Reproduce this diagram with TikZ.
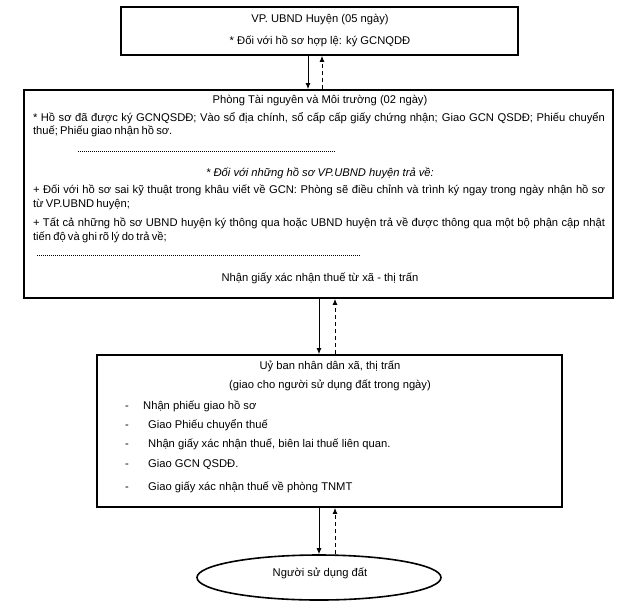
\documentclass[tikz,border=0pt]{standalone}
\usepackage{fontspec}
\setmainfont{Liberation Sans}
\usetikzlibrary{shapes.geometric,arrows.meta}
\begin{document}
\begin{tikzpicture}[x=1pt,y=-1pt,font=\fontsize{11.2}{13.5}\selectfont,
  frame/.style={draw,line width=1.8pt,inner sep=0pt},
  txt/.style={inner sep=0pt},
  para/.style={inner sep=0pt,text width=572pt,align=justify},
  dotline/.style={line width=0.5pt,dash pattern=on 1pt off 1pt},
  fwd/.style={line width=0.9pt,-{Latex[length=6pt,width=5pt]}},
  back/.style={line width=0.9pt,dash pattern=on 4pt off 3pt,-{Latex[length=6pt,width=5pt]}}]
\useasboundingbox (0,0) rectangle (636,611);
\fill[white] (0,0) rectangle (636,611);
% boxes
\node[frame,minimum width=397pt,minimum height=48pt] (b1) at (319.5,31) {};
\node[frame,minimum width=589pt,minimum height=208pt] (b2) at (318.5,194) {};
\node[frame,minimum width=465pt,minimum height=152pt] (b3) at (329.5,431) {};
\node[draw,ellipse,line width=1.6pt,minimum width=244pt,minimum height=45pt,inner sep=0pt] (e) at (319,577.5) {};
% box 1 text
\node[txt] (t11) at (320,20) {VP. UBND Huyện (05 ngày)};
\node[txt] (t12) at (320,41) {* Đối với hồ sơ hợp lệ: ký GCNQDĐ};
% box 2 text
\node[txt] (t21) at (320,101) {Phòng Tài nguyên và Môi trường (02 ngày)};
\node[para,anchor=north] (p1) at (319,112) {\spaceskip=0.2em plus 0.5em minus 0.08em * Hồ sơ đã được ký GCNQSDĐ; Vào sổ địa chính, sổ cấp cấp giấy chứng nhận; Giao GCN QSDĐ; Phiếu chuyển\linebreak thuế; Phiếu giao nhận hồ sơ.};
\coordinate (d1a) at (78,151);
\coordinate (d1b) at (336,151);
\draw[dotline] (d1a) -- (d1b);
\node[txt] (t22) at (320,173) {\itshape * Đối với những hồ sơ VP.UBND huyện trả về:};
\node[para,anchor=north] (p2) at (319,185) {\spaceskip=0.2em plus 0.5em minus 0.08em + Đối với hồ sơ sai kỹ thuật trong khâu viết về GCN: Phòng sẽ điều chỉnh và trình ký ngay trong ngày nhận hồ sơ\linebreak từ VP.UBND huyện;};
\node[para,anchor=north] (p3) at (319,218) {\spaceskip=0.2em plus 0.5em minus 0.08em + Tất cả những hồ sơ UBND huyện ký thông qua hoặc UBND huyện trả về được thông qua một bộ phận cập nhật\linebreak tiến độ và ghi rõ lý do trả về;};
\coordinate (d2a) at (37,255);
\coordinate (d2b) at (360,255);
\draw[dotline] (d2a) -- (d2b);
\node[txt] (t23) at (320,278) {Nhận giấy xác nhận thuế từ xã - thị trấn};
% box 3 text
\node[txt] (t31) at (330,366) {Uỷ ban nhân dân xã, thị trấn};
\node[txt] (t32) at (330,385) {(giao cho người sử dụng đất trong ngày)};
\foreach \yy/\xx/\tt [count=\i] in {409/143/Nhận phiếu giao hồ sơ,428/148/Giao Phiếu chuyển thuế,447/148/{Nhận giấy xác nhận thuế, biên lai thuế liên quan.},467/148/Giao GCN QSDĐ.,490/148/Giao giấy xác nhận thuế về phòng TNMT}{
  \node[txt,anchor=base] (m\i) at (127,\yy) {-};
  \node[txt,anchor=base west] (n\i) at (\xx,\yy) {\tt};
}
% ellipse text
\node[txt] (t41) at (320,573) {Người sử dụng đất};
% connectors
\coordinate (x1) at (308,0);
\coordinate (x2) at (322,0);
\coordinate (x3) at (319,0);
\coordinate (x4) at (335,0);
\draw[fwd] (b1.south -| x1) -- (b2.north -| x1);
\draw[back] (b2.north -| x2) -- (b1.south -| x2);
\draw[fwd] (b2.south -| x3) -- (b3.north -| x3);
\draw[back] (b3.north -| x4) -- (b2.south -| x4);
\draw[fwd] (b3.south -| x3) -- (e.north -| x3);
\draw[back] (e.north -| x4) -- (b3.south -| x4);
\end{tikzpicture}
\end{document}
